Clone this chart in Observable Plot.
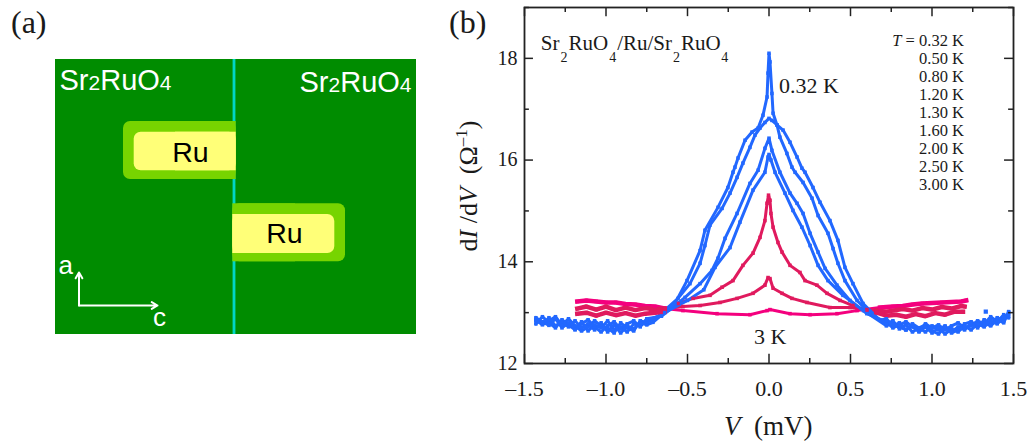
<!DOCTYPE html>
<html>
<head>
<meta charset="utf-8">
<script src="https://cdn.jsdelivr.net/npm/d3@7"></script>
<script src="https://cdn.jsdelivr.net/npm/@observablehq/plot@0.6"></script>
<style>
html,body{margin:0;padding:0;background:#fff}
#fig{position:relative;width:1036px;height:441px;overflow:hidden;font-family:"Liberation Serif",serif;color:#1a1a1a}
#fig>div,#fig>svg{position:absolute}
.lab{white-space:pre;line-height:1}
</style>
</head>
<body>
<div id="fig"></div>
<script>
// ---------- panel (b): tunnelling spectra ----------
const seriesNames = ["3.00 K","2.00 K","1.60 K","1.20 K","0.80 K","0.50 K","0.32 K"];
const seriesColors = ["#f4007e","#e01a5e","#e01a5e","#2268ff","#2268ff","#2268ff","#2268ff"];
const tempLabels = ["T = 0.32 K","0.50 K","0.80 K","1.20 K","1.30 K","1.60 K","2.00 K","2.50 K","3.00 K"];

const tailLeftV = [-1.43,-1.39,-1.35,-1.31,-1.27,-1.23,-1.19,-1.15,-1.11,-1.07,-1.03,-0.99,-0.95,-0.91,-0.87,-0.83,-0.79,-0.75];
const tailRightV = [0.72,0.76,0.80,0.84,0.88,0.92,0.96,1.00,1.04,1.08,1.12,1.16,1.20,1.24,1.28,1.32,1.36,1.40,1.44,1.47];

const v032 = [...tailLeftV,-0.712,-0.577,-0.503,-0.423,-0.393,-0.313,-0.252,-0.221,-0.209,-0.190,-0.147,-0.104,-0.067,-0.037,-0.012,-0.006,0,0.006,0.018,0.025,0.049,0.086,0.129,0.172,0.202,0.221,0.270,0.313,0.374,0.423,0.466,0.515,0.577,0.681,...tailRightV];
const g032 = [12.84,12.78,12.90,12.74,12.82,12.72,12.84,12.70,12.78,12.66,12.80,12.62,12.76,12.60,12.74,12.68,12.80,12.76,
  12.81,13.18,13.63,14.22,14.62,15.07,15.46,15.76,15.86,16.04,16.39,16.55,16.63,16.88,17.24,17.71,18.10,17.93,17.31,16.92,16.69,16.59,16.35,16.06,15.84,15.76,15.46,15.17,14.81,14.42,13.89,13.57,13.18,12.85,
  12.88,12.74,12.80,12.66,12.74,12.62,12.72,12.60,12.70,12.58,12.68,12.62,12.74,12.66,12.78,12.72,12.84,12.78,12.90,12.96];

const v050 = [...tailLeftV,-0.687,-0.558,-0.485,-0.423,-0.393,-0.362,-0.288,-0.239,-0.196,-0.160,-0.117,-0.086,-0.055,-0.025,0,0.018,0.049,0.067,0.110,0.141,0.160,0.209,0.264,0.301,0.362,0.393,0.423,0.466,0.540,0.620,...tailRightV];
const g050 = [12.90,12.82,12.75,12.88,12.70,12.80,12.68,12.82,12.64,12.76,12.70,12.84,12.66,12.72,12.62,12.78,12.74,12.86,
  12.91,13.28,13.57,13.97,14.32,14.72,15.05,15.35,15.66,15.94,16.25,16.49,16.63,16.74,16.82,16.78,16.69,16.45,16.13,15.86,15.76,15.56,15.25,14.91,14.56,14.26,13.97,13.63,13.24,12.98,
  12.78,12.84,12.68,12.76,12.62,12.70,12.76,12.64,12.58,12.72,12.62,12.72,12.66,12.80,12.70,12.86,12.76,12.90,12.84,13.00];

const v080 = [...tailLeftV,-0.660,-0.515,-0.423,-0.350,-0.313,-0.270,-0.196,-0.117,-0.067,-0.025,0,0.018,0.067,0.129,0.172,0.209,0.252,0.301,0.344,0.417,0.497,0.600,...tailRightV];
const g080 = [12.78,12.92,12.80,12.70,12.86,12.76,12.66,12.78,12.86,12.72,12.62,12.74,12.82,12.68,12.78,12.84,12.72,12.88,
  12.93,13.30,13.57,13.83,14.07,14.46,14.95,15.54,15.80,16.23,16.43,16.19,15.76,15.35,15.15,14.95,14.56,14.19,13.87,13.54,13.24,12.98,
  12.82,12.70,12.76,12.82,12.72,12.64,12.78,12.70,12.76,12.66,12.74,12.80,12.70,12.74,12.84,12.78,12.92,12.82,12.96,12.90];

const v120 = [...tailLeftV,-0.640,-0.500,-0.400,-0.331,-0.239,-0.178,-0.098,-0.025,-0.006,0,0.012,0.037,0.098,0.147,0.202,0.252,0.301,0.362,0.454,0.580,...tailRightV];
const g120 = [12.86,12.76,12.84,12.92,12.76,12.88,12.74,12.64,12.72,12.84,12.74,12.70,12.60,12.80,12.70,12.64,12.84,12.80,
  13.00,13.24,13.45,13.89,14.28,14.78,15.41,15.76,16.06,16.11,16.00,15.76,15.35,15.01,14.68,14.32,13.93,13.63,13.34,13.04,
  12.74,12.80,12.72,12.66,12.78,12.70,12.62,12.74,12.66,12.74,12.60,12.66,12.78,12.82,12.74,12.80,12.74,12.86,12.80,13.02];

const v160 = [-1.176,-1.12,-1.06,-1.00,-0.94,-0.88,-0.82,-0.76,-0.70,-0.64,-0.558,-0.466,-0.362,-0.288,-0.221,-0.160,-0.098,-0.055,-0.025,-0.012,-0.003,0.006,0.012,0.025,0.055,0.080,0.129,0.190,0.221,0.294,0.356,0.436,0.515,0.600,0.66,0.72,0.78,0.84,0.90,0.96,1.02,1.08,1.14,1.19];
const g160 = [12.98,13.00,12.94,13.00,12.95,12.99,12.94,12.98,13.00,13.02,13.18,13.28,13.34,13.50,13.63,13.93,14.17,14.48,14.81,15.15,15.31,15.21,14.95,14.68,14.38,14.19,13.93,13.79,13.63,13.54,13.38,13.24,13.14,13.04,13.00,12.94,12.96,12.92,12.97,12.93,12.99,12.96,13.02,13.02];

const v200 = [-1.176,-1.12,-1.06,-1.00,-0.94,-0.88,-0.82,-0.76,-0.70,-0.64,-0.528,-0.423,-0.301,-0.196,-0.098,-0.025,-0.006,0.006,0.025,0.080,0.141,0.233,0.374,0.497,0.60,0.66,0.72,0.76,0.82,0.88,0.94,1.00,1.06,1.12,1.18,1.20];
const g200 = [13.08,13.12,13.06,13.12,13.05,13.10,13.05,13.09,13.06,13.08,13.12,13.14,13.20,13.28,13.38,13.54,13.69,13.67,13.48,13.38,13.28,13.20,13.10,13.10,13.06,13.04,13.02,13.04,13.07,13.04,13.09,13.06,13.11,13.08,13.13,13.12];

const v300 = [-1.176,-1.12,-1.06,-1.00,-0.94,-0.88,-0.82,-0.76,-0.70,-0.64,-0.528,-0.319,-0.117,-0.012,0.006,0.129,0.252,0.417,0.540,0.681,0.76,0.82,0.88,0.94,1.00,1.06,1.12,1.18,1.21];
const g300 = [13.22,13.24,13.22,13.20,13.20,13.17,13.16,13.13,13.12,13.08,13.04,12.98,12.96,13.04,13.06,12.98,12.96,12.98,13.04,13.10,13.12,13.13,13.16,13.18,13.19,13.20,13.21,13.22,13.24];

const strayV = [1.33];
const strayG = [13.02];

const xMajor = [-1.5,-1,-0.5,0,0.5,1,1.5];
const xMinor = [-1.25,-0.75,-0.25,0.25,0.75,1.25];
const yMajor = [12,14,16,18];
const yMinor = [13,15,17,19];

const seriesX = [v300,v200,v160,v120,v080,v050,v032];
const seriesY = [g300,g200,g160,g120,g080,g050,g032];
const rows = seriesNames.flatMap((name,k)=>seriesX[k].map((V,i)=>({V,G:seriesY[k][i],T:name})));
const stray = strayV.map((V,i)=>({V,G:strayG[i]}));
const warmNames = new Set(seriesNames.slice(0,3));
const warmTailsLeft = rows.filter(d=>warmNames.has(d.T)&&d.V<-0.6);
const warmTailsRight = rows.filter(d=>warmNames.has(d.T)&&d.V>0.6);

const tickColor = "#222";
const tickLabel = d => d3.format(".1f")(Math.abs(d)).replace(/^/, d<0?"\u2013":"");

const plotB = Plot.plot({
  width:1036,height:441,
  marginLeft:524,marginRight:23,marginTop:7,marginBottom:78,
  style:{fontFamily:'"Liberation Serif",serif',fontSize:"20px",color:"#1a1a1a",background:"transparent"},
  x:{domain:[-1.5,1.5],label:null},
  y:{domain:[12,19],label:null},
  color:{domain:seriesNames,range:seriesColors},
  marks:[
    Plot.line(rows,{x:"V",y:"G",z:"T",stroke:"T",strokeWidth:3,strokeLinejoin:"miter",strokeLinecap:"square"}),
    Plot.line(warmTailsLeft,{x:"V",y:"G",z:"T",stroke:"T",strokeWidth:4.5,strokeLinecap:"square"}),
    Plot.line(warmTailsRight,{x:"V",y:"G",z:"T",stroke:"T",strokeWidth:4.5,strokeLinecap:"square"}),
    Plot.dot(rows,{x:"V",y:"G",fill:"T",symbol:"square",r:2,stroke:null}),
    Plot.dot(stray,{x:"V",y:"G",symbol:"square",r:2.4,fill:"#2268ff"}),
    Plot.ruleX(xMajor,{y1:12,y2:12.18,stroke:tickColor,strokeWidth:1.5}),
    Plot.ruleX(xMinor,{y1:12,y2:12.1,stroke:tickColor,strokeWidth:1.5}),
    Plot.ruleX(xMajor,{y1:19,y2:18.82,stroke:tickColor,strokeWidth:1.5}),
    Plot.ruleX(xMinor,{y1:19,y2:18.9,stroke:tickColor,strokeWidth:1.5}),
    Plot.ruleY(yMajor,{x1:-1.5,x2:-1.445,stroke:tickColor,strokeWidth:1.5}),
    Plot.ruleY(yMinor,{x1:-1.5,x2:-1.47,stroke:tickColor,strokeWidth:1.5}),
    Plot.ruleY(yMajor,{x1:1.5,x2:1.445,stroke:tickColor,strokeWidth:1.5}),
    Plot.ruleY(yMinor,{x1:1.5,x2:1.47,stroke:tickColor,strokeWidth:1.5}),
    Plot.frame({stroke:tickColor,strokeWidth:1.8}),
    Plot.axisX({ticks:xMajor,tickSize:0,tickPadding:17,tickFormat:tickLabel,fontSize:22,label:null}),
    Plot.axisY({ticks:yMajor,tickSize:0,tickPadding:7,tickFormat:d=>String(d),fontSize:20,label:null}),
    Plot.text(["Sr2RuO4/Ru/Sr2RuO4"],{x:()=>-1.40,y:()=>18.16,text:d=>d,textAnchor:"start",lineAnchor:"bottom",fontSize:21}),
    Plot.text(["0.32 K"],{x:()=>0.061,y:()=>17.31,text:d=>d,textAnchor:"start",lineAnchor:"bottom",fontSize:22}),
    Plot.text(["3 K"],{x:()=>-0.092,y:()=>12.39,text:d=>d,textAnchor:"start",lineAnchor:"bottom",fontSize:22}),
    Plot.text(tempLabels,{x:()=>1.196,y:(d,i)=>18.24-i*0.3525,text:d=>d,textAnchor:"end",lineAnchor:"bottom",fontSize:16.5})
  ]
});

// ---------- panel (a): junction schematic ----------
const panelW = 361, panelH = 275;
const Ru_outer = [{x1:68,x2:180.7,y1:62,y2:120},{x1:177.3,x2:290,y1:144.3,y2:202.3}];
const Ru_outerFlat = [{x1:120,x2:180.7,y1:62,y2:120},{x1:177.3,x2:240,y1:144.3,y2:202.3}];
const Ru_inner = [{x1:78.7,x2:180.7,y1:72.7,y2:111.3},{x1:177.3,x2:279.3,y1:155,y2:194}];
const Ru_innerFlat = [{x1:120,x2:180.7,y1:72.7,y2:111.3},{x1:177.3,x2:240,y1:155,y2:194}];
const boundary = [{x1:177.6,x2:180.4,y1:0,y2:panelH}];
const crystalLabels = [{t:"Sr2RuO4",x:4,y:30},{t:"Sr2RuO4",x:244,y:32}];
const ruLabels = [{t:"Ru",x:135,y:102},{t:"Ru",x:229,y:183}];
const axisLetters = [{t:"a",x:3,y:214},{t:"c",x:97.5,y:266}];
const axisArrows = [{x1:23.5,y1:246,x2:23.5,y2:213},{x1:23.5,y1:246,x2:102,y2:246}];

const rectOf = (data,fill,extra={}) => Plot.rect(data,{x1:"x1",x2:"x2",y1:"y1",y2:"y2",fill,inset:0,...extra});
const plotA = Plot.plot({
  width:panelW,height:panelH,margin:0,
  style:{fontFamily:'"Liberation Sans",sans-serif',background:"transparent"},
  x:{domain:[0,panelW],axis:null},
  y:{domain:[panelH,0],range:[panelH,0],axis:null,reverse:false},
  marks:[
    rectOf([{x1:0,x2:panelW,y1:0,y2:panelH}],"#008c00"),
    rectOf(boundary,"#00d6c6"),
    rectOf(Ru_outer,"#77d400",{rx:7}),
    rectOf(Ru_outerFlat,"#77d400"),
    rectOf(Ru_inner,"#ffff78",{rx:7}),
    rectOf(Ru_innerFlat,"#ffff78"),
    Plot.text(crystalLabels,{x:"x",y:"y",text:"t",textAnchor:"start",lineAnchor:"bottom",fontSize:29,fill:"white"}),
    Plot.text(ruLabels,{x:"x",y:"y",text:"t",textAnchor:"middle",lineAnchor:"bottom",fontSize:28.5,fill:"black"}),
    Plot.text(axisLetters,{x:"x",y:"y",text:"t",textAnchor:"start",lineAnchor:"bottom",fontSize:26,fill:"white"}),
    Plot.arrow(axisArrows,{x1:"x1",y1:"y1",x2:"x2",y2:"y2",stroke:"white",strokeWidth:2,headLength:5,bend:0})
  ]
});

// mixed-size chemical formulas stay a single real text element
function richen(root,whole,parts){
  d3.select(root).selectAll("text").filter(function(){return this.textContent===whole;}).each(function(){
    const sel=d3.select(this); sel.text(null);
    parts.forEach(p=>{const s=sel.append("tspan").text(p.t);
      if(p.size)s.attr("font-size",p.size); if(p.dy)s.attr("dy",p.dy); if(p.dx)s.attr("dx",p.dx);});
  });
}
richen(plotA,"Sr2RuO4",[{t:"Sr"},{t:"2",size:21},{t:"RuO"},{t:"4",size:21}]);
richen(plotB,"Sr2RuO4/Ru/Sr2RuO4",[{t:"Sr"},{t:"2",size:14,dy:12,dx:1},{t:"RuO",dy:-12,dx:1},{t:"4",size:14,dy:12,dx:1},{t:"/Ru/Sr",dy:-12,dx:1},{t:"2",size:14,dy:12,dx:1},{t:"RuO",dy:-12,dx:1},{t:"4",size:14,dy:12,dx:0.5}]);
d3.select(plotB).selectAll("text").filter(function(){return this.textContent==="T = 0.32 K";}).each(function(){
  const sel=d3.select(this); sel.text(null);
  sel.append("tspan").attr("font-style","italic").text("T");
  sel.append("tspan").text(" = 0.32 K");
});

const fig=document.getElementById("fig");
plotB.style.left="0";plotB.style.top="0";plotB.style.position="absolute";
plotA.style.left="55px";plotA.style.top="59px";plotA.style.position="absolute";
fig.append(plotB,plotA);

function label(html,left,top,size,extra=""){
  const d=document.createElement("div");d.className="lab";d.innerHTML=html;
  d.style.cssText=`left:${left}px;top:${top}px;font-size:${size}px;${extra}`;fig.append(d);
}
label("(a)",11,6,32);
label("(b)",449,6,32);
label("<i>V</i>  (mV)",724,413,27);
label("d<i>I</i> /d<i>V</i>  (Ω<sup style=\"font-size:17px;line-height:0\">–1</sup>)",469,186,26,"transform:translate(-50%,-50%) rotate(-90deg);");
</script>
</body>
</html>
